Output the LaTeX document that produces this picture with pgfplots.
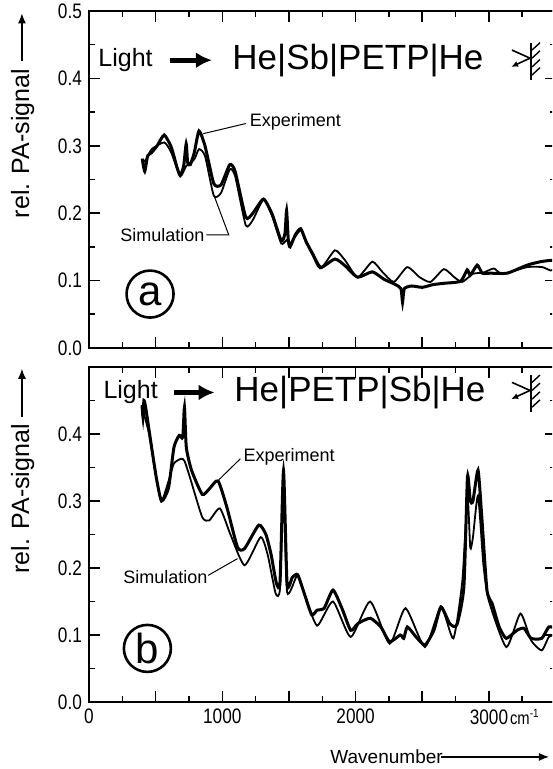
\documentclass[border=0pt]{standalone}
\usepackage{fontspec}
\setmainfont{Liberation Sans}
\newfontfamily\narrowsans[FakeStretch=0.82]{Liberation Sans}
\usepackage{pgfplots}
\pgfplotsset{compat=1.18}
\usetikzlibrary{arrows.meta}

\pgfplotsset{
  panel/.style={
    scale only axis, width=233.3pt,
    xmin=0, xmax=3500, ymin=0, ymax=0.5,
    xtick={0,500,...,3500}, minor x tick num=1,
    axis line style={line width=1.1pt},
    every tick/.style={black, line width=0.8pt},
    major tick length=5.5pt, minor tick length=3pt,
    /pgf/number format/assume math mode=true,
    ticklabel style={font=\narrowsans\fontsize{10.5}{12}\selectfont},
    yticklabel style={/pgf/number format/fixed, /pgf/number format/fixed zerofill, /pgf/number format/precision=1},
    ylabel style={font=\fontsize{12.5}{14}\selectfont, at={(axis description cs:-0.142,0.69)}, anchor=center},
    clip mode=individual,
  },
  expt/.style={black, line width=1.5pt, smooth, tension=0.35, no marks},
  simu/.style={black, line width=0.9pt, smooth, tension=0.35, no marks},
}
\newcommand{\hatch}[2]{\draw[line width=0.7pt] (3323,{#1+#2}) -- (3383,{#1+0.011+#2});}
\newcommand{\detector}[1]{%
  \draw[line width=0.8pt] (3173,{0.442+#1}) -- (3308,{0.430+#1});
  \draw[line width=0.8pt,-{Latex[length=3.5pt,width=3pt]}] (3308,{0.430+#1}) -- (3166,{0.417+#1});
  \draw[line width=1.3pt] (3316,{0.4525+#1}) -- (3316,{0.398+#1});
  \hatch{0.442}{#1}\hatch{0.430}{#1}\hatch{0.417}{#1}\hatch{0.405}{#1}%
}
\newcommand{\ylab}{rel. PA-signal \tikz[baseline=-0.55ex]\draw[line width=0.6pt,-{Latex[length=5pt,width=4pt]}] (0,0) -- (24pt,0);}

\begin{document}
\begin{tikzpicture}
\useasboundingbox (-44.5pt,-33.5pt) rectangle (231.5pt,351pt);
\clip (-44.5pt,-33.5pt) rectangle (231.5pt,351pt);

% panel (a)
\begin{axis}[panel, at={(0pt,177pt)}, anchor=south west, height=168.5pt,
  ytick={0,0.1,...,0.5}, minor y tick num=1, xticklabels=\empty,
  ylabel={\ylab}]
\addplot[expt] coordinates {
(399,0.281)(418,0.262)(440,0.285)(470,0.290)(511,0.300)(564,0.316)(617,0.298)
(660,0.268)(684,0.256)(710,0.27)(729,0.303)(740,0.275)(760,0.272)(790,0.29)
(825,0.322)(870,0.300)(936,0.244)(990,0.242)(1056,0.272)(1096,0.262)(1176,0.194)
(1229,0.200)(1309,0.221)(1375,0.198)(1442,0.159)(1470,0.17)(1482,0.204)(1495,0.16)
(1508,0.15)(1548,0.168)(1588,0.177)(1628,0.158)(1681,0.138)(1735,0.119)(1845,0.132)
(1921,0.122)(2015,0.105)(2125,0.113)(2213,0.102)(2300,0.094)(2340,0.088)(2352,0.068)
(2365,0.088)(2420,0.092)(2500,0.090)(2580,0.094)(2662,0.096)(2787,0.099)(2837,0.116)
(2860,0.108)(2912,0.123)(2950,0.111)(3012,0.111)(3137,0.111)(3287,0.123)(3387,0.128)
(3462,0.13)(3500,0.13)};
\addplot[simu] coordinates {
(399,0.275)(430,0.28)(470,0.295)(564,0.305)(617,0.29)(684,0.255)(729,0.27)
(790,0.28)(825,0.295)(870,0.285)(936,0.226)(990,0.23)(1056,0.265)(1096,0.255)
(1176,0.182)(1229,0.19)(1309,0.22)(1375,0.195)(1442,0.155)(1482,0.16)(1508,0.155)
(1588,0.175)(1628,0.158)(1681,0.14)(1745,0.12)(1845,0.145)(1921,0.13)(2015,0.105)
(2125,0.128)(2200,0.113)(2287,0.098)(2387,0.12)(2480,0.105)(2562,0.098)(2662,0.117)
(2740,0.105)(2800,0.098)(2880,0.11)(2960,0.112)(3037,0.118)(3100,0.11)(3287,0.12)
(3400,0.12)(3462,0.115)(3500,0.118)};
\node[anchor=west, inner sep=0pt, font=\fontsize{12.5}{14}\selectfont] at (68,0.427) {Light};
\draw[line width=2.4pt,-{Latex[length=8pt,width=8pt]}] (607,0.427) -- (922,0.427);
\node[anchor=west, inner sep=0pt, font=\fontsize{17.5}{20}\selectfont] at (1073,0.427) {He|Sb|PETP|He};
\detector{0}
\node[anchor=west, inner sep=1pt, font=\fontsize{9}{10}\selectfont] at (1189,0.335) {Experiment};
\draw[line width=0.5pt] (1176,0.333) -- (857,0.318);
\node[anchor=west, inner sep=1pt, font=\fontsize{9}{10}\selectfont] at (218,0.167) {Simulation};
\draw[line width=0.5pt] (880,0.168) -- (1048,0.168) -- (940,0.225);
\node[circle, draw, line width=1.3pt, minimum size=23.5pt, inner sep=0pt,
  font=\fontsize{21}{21}\selectfont] at (458,0.08) {a};
\end{axis}

% panel (b)
\begin{axis}[panel, at={(0pt,0pt)}, anchor=south west, height=167.5pt,
  ytick={0,0.1,...,0.4}, minor ytick={0.05,0.15,...,0.45},
  xticklabels={0,,1000,,2000,,{3000\rlap{\kern1pt\fontsize{9}{10}\selectfont cm\textsuperscript{-1}}},},
  ylabel={\ylab}]
\addplot[expt] coordinates {
(398,0.443)(405,0.425)(412,0.45)(425,0.44)(451,0.405)(504,0.336)(544,0.30)
(597,0.32)(637,0.38)(677,0.398)(703,0.395)(716,0.44)(730,0.38)(769,0.346)
(849,0.31)(902,0.318)(968,0.33)(1035,0.29)(1114,0.231)(1167,0.229)(1273,0.264)
(1327,0.25)(1366,0.22)(1406,0.177)(1433,0.18)(1459,0.345)(1486,0.176)(1525,0.186)
(1565,0.19)(1618,0.16)(1671,0.13)(1711,0.137)(1764,0.14)(1830,0.167)(1897,0.14)
(1963,0.107)(2016,0.117)(2109,0.125)(2189,0.112)(2255,0.09)(2335,0.10)(2361,0.095)
(2388,0.112)(2454,0.097)(2520,0.085)(2587,0.107)(2640,0.142)(2706,0.117)(2759,0.115)
(2812,0.172)(2839,0.336)(2860,0.30)(2880,0.30)(2918,0.346)(2945,0.28)(2985,0.167)
(3024,0.147)(3077,0.112)(3130,0.095)(3210,0.107)(3263,0.11)(3316,0.095)(3396,0.095)
(3449,0.112)(3500,0.11)};
\addplot[simu] coordinates {
(398,0.44)(451,0.40)(504,0.335)(544,0.30)(597,0.33)(637,0.356)(690,0.363)
(716,0.36)(756,0.336)(849,0.276)(902,0.271)(982,0.289)(1061,0.25)(1167,0.204)
(1287,0.246)(1340,0.22)(1400,0.162)(1433,0.17)(1459,0.33)(1486,0.164)(1565,0.19)
(1618,0.16)(1711,0.114)(1830,0.15)(1963,0.097)(2109,0.15)(2255,0.087)(2374,0.14)
(2520,0.082)(2640,0.142)(2733,0.095)(2800,0.18)(2839,0.306)(2860,0.23)(2880,0.246)
(2918,0.308)(2958,0.206)(2998,0.152)(3130,0.082)(3236,0.132)(3316,0.092)(3396,0.077)
(3449,0.097)(3500,0.10)};
\node[anchor=west, inner sep=0pt, font=\fontsize{12.5}{14}\selectfont] at (106,0.462) {Light};
\draw[line width=2.4pt,-{Latex[length=8pt,width=8pt]}] (637,0.462) -- (942,0.462);
\node[anchor=west, inner sep=0pt, font=\fontsize{17.5}{20}\selectfont] at (1088,0.462) {He|PETP|Sb|He};
\detector{0.035}
\node[anchor=west, inner sep=1pt, font=\fontsize{9}{10}\selectfont] at (1141,0.366) {Experiment};
\draw[line width=0.5pt] (1135,0.363) -- (976,0.332);
\node[anchor=west, inner sep=1pt, font=\fontsize{9}{10}\selectfont] at (239,0.187) {Simulation};
\draw[line width=0.5pt] (894,0.189) -- (1114,0.214);
\node[circle, draw, line width=1.3pt, minimum size=23.5pt, inner sep=0pt,
  font=\fontsize{21}{21}\selectfont] at (438,0.08) {b};
\node[anchor=west, inner sep=0pt, font=\fontsize{9.5}{11}\selectfont] at (1808,-0.082) {Wavenumber};
\draw[line width=0.6pt,-{Latex[length=5pt,width=4pt]}] (2640,-0.082) -- (3450,-0.082);
\end{axis}
\end{tikzpicture}
\end{document}
